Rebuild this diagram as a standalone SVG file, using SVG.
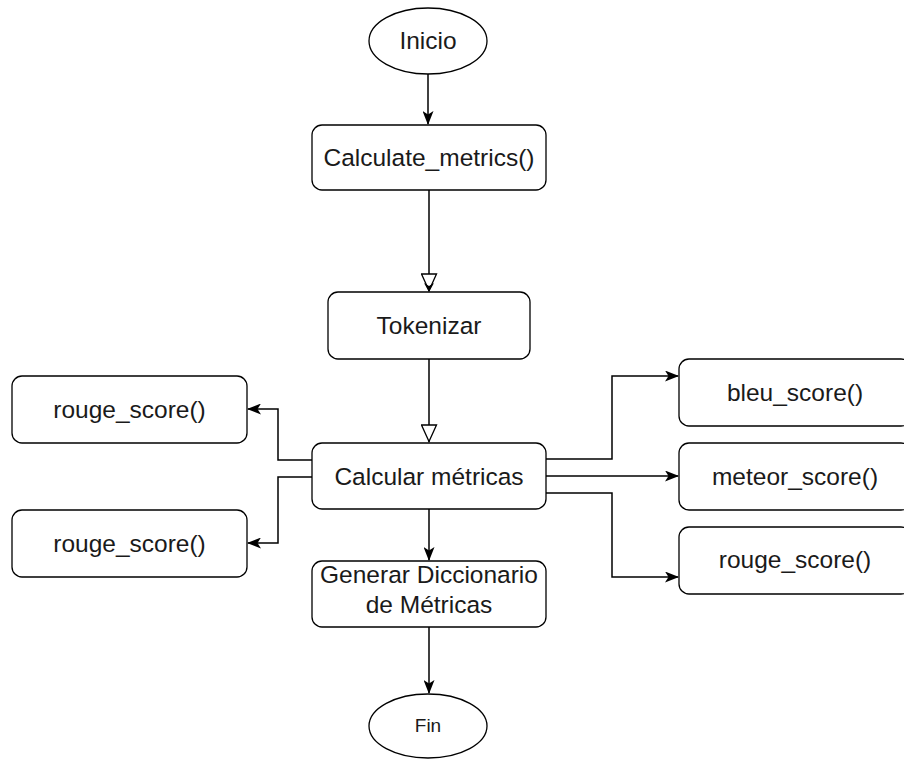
<svg xmlns="http://www.w3.org/2000/svg" width="904" height="760" viewBox="0 0 904 760">
<style>
.box{fill:#fff;stroke:#000;stroke-width:1.3}
.t{font-family:"Liberation Sans",Arial,sans-serif;font-size:24.5px;fill:#1a1a1a;text-anchor:middle}
.c{fill:none;stroke:#000;stroke-width:1.5}
</style>
<defs>
<marker id="arr" markerUnits="userSpaceOnUse" viewBox="0 0 14 11" refX="13" refY="5.5" markerWidth="14" markerHeight="11" orient="auto">
<path d="M0,0 L14,5.5 L0,11 L3.5,5.5 Z" fill="#000"/>
</marker>
<marker id="hol" markerUnits="userSpaceOnUse" viewBox="-1 -1 19 17" refX="17" refY="7.5" markerWidth="19" markerHeight="17" orient="auto">
<path d="M0,0 L16.5,7.5 L0,15 Z" fill="#fff" stroke="#000" stroke-width="1.3"/>
</marker>
</defs>
<rect width="904" height="760" fill="#fff"/>
<g id="connectors">
<path class="c" d="M428,74 V124" marker-end="url(#arr)"/>
<path class="c" d="M429,190 V291" marker-end="url(#hol)"/>
<path d="M424,283 L429,292 L434,283 L429,286 Z" fill="#000"/>
<path class="c" d="M429,359 V442" marker-end="url(#hol)"/>
<path class="c" d="M312,460 H278 V409 H248" marker-end="url(#arr)"/>
<path class="c" d="M312,477 H278 V543 H248" marker-end="url(#arr)"/>
<path class="c" d="M546,459 H612 V376 H678" marker-end="url(#arr)"/>
<path class="c" d="M546,476 H678" marker-end="url(#arr)"/>
<path class="c" d="M546,493 H612 V577 H678" marker-end="url(#arr)"/>
<path class="c" d="M429,509 V560" marker-end="url(#arr)"/>
<path class="c" d="M429,627 V693" marker-end="url(#arr)"/>
</g>
<g id="inicio">
<ellipse class="box" cx="428" cy="41" rx="59" ry="33"/>
<text class="t" x="428" y="49">Inicio</text>
</g>
<g id="calculate">
<rect class="box" x="312" y="125" width="234" height="65" rx="10"/>
<text class="t" x="429" y="166">Calculate_metrics()</text>
</g>
<g id="tokenizar">
<rect class="box" x="328" y="292" width="202" height="67" rx="10"/>
<text class="t" x="429" y="334">Tokenizar</text>
</g>
<g id="calcular">
<rect class="box" x="312" y="443" width="234" height="66" rx="10"/>
<text class="t" x="429" y="485">Calcular métricas</text>
</g>
<g id="generar">
<rect class="box" x="312" y="561" width="234" height="66" rx="10"/>
<text class="t" x="429" y="583">Generar Diccionario</text>
<text class="t" x="429" y="613">de Métricas</text>
</g>
<g id="fin">
<ellipse class="box" cx="428" cy="726" rx="59" ry="32"/>
<text class="t" x="428" y="732" style="font-size:19px">Fin</text>
</g>
<g id="rouge_left_top">
<rect class="box" x="12" y="376" width="235" height="67" rx="10"/>
<text class="t" x="129.5" y="418">rouge_score()</text>
</g>
<g id="rouge_left_bottom">
<rect class="box" x="12" y="510" width="235" height="67" rx="10"/>
<text class="t" x="129.5" y="552">rouge_score()</text>
</g>
<g id="bleu">
<rect class="box" x="679" y="359" width="232" height="67" rx="10"/>
<text class="t" x="795" y="401">bleu_score()</text>
</g>
<g id="meteor">
<rect class="box" x="679" y="443" width="232" height="67" rx="10"/>
<text class="t" x="795" y="485">meteor_score()</text>
</g>
<g id="rouge_right">
<rect class="box" x="679" y="527" width="232" height="67" rx="10"/>
<text class="t" x="795" y="568">rouge_score()</text>
</g>
</svg>
